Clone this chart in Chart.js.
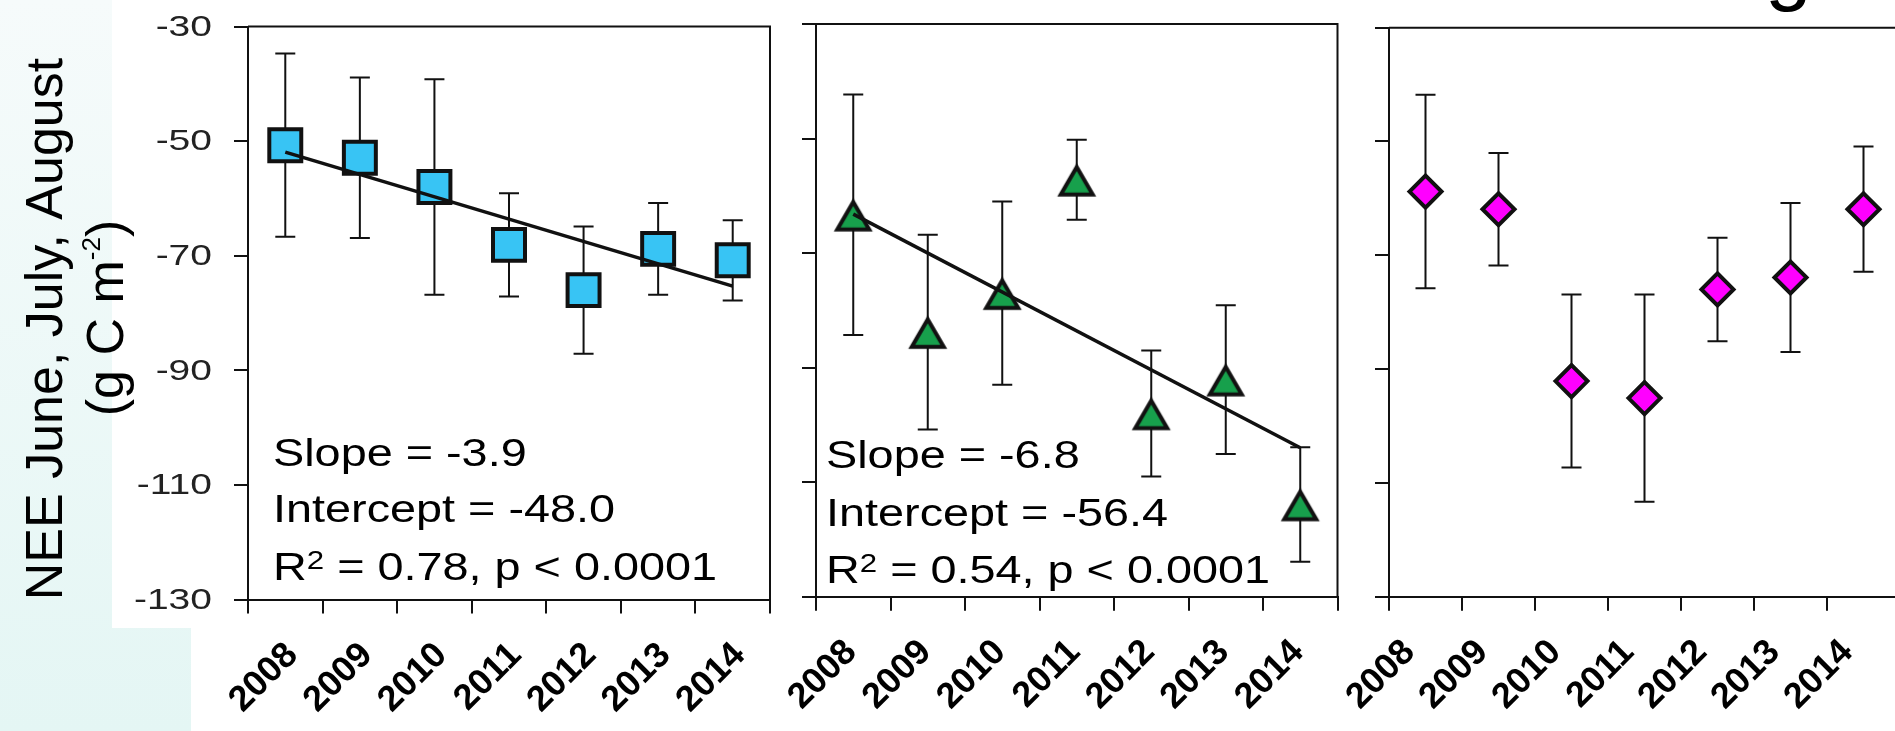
<!DOCTYPE html>
<html>
<head>
  <meta charset="utf-8">
  <script src="https://cdn.jsdelivr.net/npm/chart.js@4.4.1/dist/chart.umd.min.js"></script>
  <style>
    html, body { margin: 0; padding: 0; }
    body {
      width: 1895px; height: 731px; overflow: hidden; position: relative;
      background: linear-gradient(to bottom, #f6fbfb, #e4f6f4);
    }
    .sheet { position: absolute; background: #fff; }
    canvas { position: absolute; left: 0; top: 0; }
  </style>
</head>
<body>
  <div class="sheet" style="left:112px;top:0;width:1783px;height:628px"></div>
  <div class="sheet" style="left:191px;top:628px;width:1704px;height:103px"></div>
  <canvas id="panelA" width="1920" height="731"></canvas>
  <canvas id="panelB" width="1920" height="731"></canvas>
  <canvas id="panelC" width="1920" height="731"></canvas>
<script>
  const years = ['2008', '2009', '2010', '2011', '2012', '2013', '2014'];
  const yTicks = [-30, -50, -70, -90, -110, -130];

  const titleLine = 'NEE June, July, August';
  const unitParts = [['(g C m', false], ['-2', true], [')', false]];

  // left panel: squares + fitted line
  const neeA = [-50.7, -52.9, -58.0, -68.1, -76.0, -68.8, -70.8];
  const errA = [16.0, 14.0, 18.8, 9.0, 11.1, 8.0, 7.0];
  const slopeA = -3.9;
  const interceptA = -48.0;
  const r2A = '0.78';
  const pA = '< 0.0001';

  // middle panel: triangles + fitted line
  const neeB = [-63.3, -83.8, -77.0, -57.2, -98.0, -92.1, -113.9];
  const errB = [21.0, 17.0, 16.0, 7.0, 11.0, 13.0, 10.0];
  const slopeB = -6.8;
  const interceptB = -56.4;
  const r2B = '0.54';
  const pB = '< 0.0001';

  // right panel: diamonds, no fit
  const neeC = [-58.8, -61.9, -92.1, -95.1, -76.0, -73.9, -61.9];
  const errC = [17.0, 9.9, 15.2, 18.2, 9.1, 13.1, 11.0];

  const FONT = '"Liberation Sans", Arial, Helvetica, sans-serif';
  const INK = '#111';
  const TICK = 14;

  // fitted line drawn from first to last year, x = 1 for 2008
  function trendLine(slope, intercept) {
    return years.map((_, i) => (i === 0 || i === years.length - 1) ? intercept + slope * (i + 1) : null);
  }

  // triangle marker centred on its bounding box
  function triangleMarker(fill) {
    const c = document.createElement('canvas');
    c.width = 44; c.height = 42;
    const g = c.getContext('2d');
    const cx = 22, cy = 22, half = 16, h = 27.7;
    g.beginPath();
    g.moveTo(cx, cy - h / 2);
    g.lineTo(cx + half, cy + h / 2);
    g.lineTo(cx - half, cy + h / 2);
    g.closePath();
    g.fillStyle = fill;
    g.fill();
    g.lineWidth = 4;
    g.lineJoin = 'miter';
    g.strokeStyle = INK;
    g.stroke();
    return c;
  }

  function richWidth(ctx, parts, size, supSize) {
    let w = 0;
    parts.forEach(([txt, sup]) => {
      ctx.font = (sup ? supSize : size) + 'px ' + FONT;
      w += ctx.measureText(txt).width;
    });
    return w;
  }

  function richText(ctx, parts, x, y, size, supSize, raise) {
    let cx = x;
    parts.forEach(([txt, sup]) => {
      ctx.font = (sup ? supSize : size) + 'px ' + FONT;
      ctx.fillText(txt, cx, sup ? y - raise : y);
      cx += ctx.measureText(txt).width;
    });
  }

  function panelDecor(p) {
    return {
      id: 'panelDecor',
      beforeDatasetsDraw(chart) {
        const ctx = chart.ctx;
        const y = chart.scales.y;
        const idx = chart.data.datasets.length - 1;
        const pts = chart.getDatasetMeta(idx).data;
        const vals = chart.data.datasets[idx].data;
        ctx.save();
        ctx.strokeStyle = INK;
        ctx.lineWidth = 2;
        pts.forEach((pt, i) => {
          const top = y.getPixelForValue(vals[i] + p.errors[i]);
          const bot = y.getPixelForValue(vals[i] - p.errors[i]);
          ctx.beginPath();
          ctx.moveTo(pt.x, top); ctx.lineTo(pt.x, bot);
          ctx.moveTo(pt.x - 10, top); ctx.lineTo(pt.x + 10, top);
          ctx.moveTo(pt.x - 10, bot); ctx.lineTo(pt.x + 10, bot);
          ctx.stroke();
        });
        ctx.restore();
      },
      afterDraw(chart) {
        const ctx = chart.ctx;
        const a = chart.chartArea;
        const x = chart.scales.x;
        const y = chart.scales.y;
        ctx.save();

        // top and right sides of the box
        ctx.strokeStyle = INK;
        ctx.lineWidth = 2;
        ctx.beginPath();
        ctx.moveTo(a.left, a.top);
        ctx.lineTo(a.right, a.top);
        ctx.lineTo(a.right, a.bottom);
        ctx.stroke();

        // y tick labels (left panel only)
        if (p.yLabels) {
          ctx.font = '30px ' + FONT;
          ctx.fillStyle = '#222';
          ctx.textAlign = 'right';
          ctx.textBaseline = 'middle';
          yTicks.forEach(v => {
            ctx.save();
            ctx.translate(a.left - 36, y.getPixelForValue(v) + 1);
            ctx.scale(1.3, 1);
            ctx.fillText(String(v), 0, 0);
            ctx.restore();
          });
        }

        // rotated year labels
        ctx.font = 'bold 36px ' + FONT;
        ctx.fillStyle = '#000';
        ctx.textAlign = 'right';
        ctx.textBaseline = 'middle';
        years.forEach((yr, i) => {
          ctx.save();
          ctx.translate(x.getPixelForValue(i) + p.labelShift, a.bottom + 50);
          ctx.rotate(-Math.PI / 4);
          ctx.fillText(yr, 0, 0);
          ctx.restore();
        });

        // regression statistics
        if (p.stats) {
          const s = p.stats;
          const lines = [
            [['Slope = ' + s.slope.toFixed(1), false]],
            [['Intercept = ' + s.intercept.toFixed(1), false]],
            [['R', false], ['2', true], [' = ' + s.r2 + ', p ' + s.p, false]]
          ];
          ctx.fillStyle = '#000';
          ctx.textAlign = 'left';
          ctx.textBaseline = 'alphabetic';
          lines.forEach((parts, k) => {
            ctx.save();
            ctx.translate(a.left + s.dx, a.top + s.baselines[k]);
            ctx.scale(1.2, 1);
            richText(ctx, parts, 0, 0, 39, 26, 11);
            ctx.restore();
          });
        }

        if (p.extra) p.extra(ctx);
        ctx.restore();
      }
    };
  }

  function makePanel(id, p) {
    const datasets = [];
    if (p.stats) {
      datasets.push({
        data: trendLine(p.stats.slope, p.stats.intercept),
        borderColor: INK,
        borderWidth: 3.5,
        pointRadius: 0,
        spanGaps: true
      });
    }
    datasets.push({
      data: p.values,
      showLine: false,
      pointStyle: p.pointStyle,
      pointRadius: p.radius,
      pointBackgroundColor: p.fill,
      pointBorderColor: INK,
      pointBorderWidth: 4
    });

    const axisGrid = { drawOnChartArea: false, tickLength: TICK, color: INK, lineWidth: 2 };
    return new Chart(document.getElementById(id), {
      type: 'line',
      data: { labels: years, datasets: datasets },
      options: {
        responsive: false,
        animation: false,
        devicePixelRatio: 1,
        events: [],
        layout: {
          padding: {
            left: p.area.left - TICK,
            top: p.area.top,
            right: 1920 - p.area.right,
            bottom: 731 - p.area.bottom - TICK
          }
        },
        plugins: { legend: { display: false }, tooltip: { enabled: false } },
        scales: {
          x: {
            type: 'category',
            offset: true,
            grid: Object.assign({ offset: true }, axisGrid),
            border: { color: INK, width: 2 },
            ticks: { display: false },
            afterFit: s => { s.height = TICK; }
          },
          y: {
            min: -130,
            max: -30,
            grid: axisGrid,
            border: { color: INK, width: 2 },
            ticks: { display: false, stepSize: 20 },
            afterFit: s => { s.width = TICK; }
          }
        }
      },
      plugins: [panelDecor(p)]
    });
  }

  makePanel('panelA', {
    area: { left: 248, top: 23.5, right: 770, bottom: 599.5 },
    values: neeA,
    errors: errA,
    pointStyle: 'rect',
    radius: 22.6,
    fill: '#38C4F4',
    yLabels: true,
    labelShift: 7,
    stats: { slope: slopeA, intercept: interceptA, r2: r2A, p: pA, dx: 25, baselines: [439.5, 495.5, 553.5] },
    extra(ctx) {
      // y axis title, two rotated lines
      ctx.fillStyle = '#000';
      ctx.textBaseline = 'alphabetic';
      ctx.textAlign = 'center';
      ctx.font = '52px ' + FONT;
      ctx.save();
      ctx.translate(62, 329);
      ctx.rotate(-Math.PI / 2);
      ctx.fillText(titleLine, 0, 0);
      ctx.restore();

      ctx.save();
      ctx.translate(123, 318);
      ctx.rotate(-Math.PI / 2);
      ctx.textAlign = 'left';
      const w = richWidth(ctx, unitParts, 52, 26);
      richText(ctx, unitParts, -w / 2, 0, 52, 26, 23);
      ctx.restore();
    }
  });

  makePanel('panelB', {
    area: { left: 816, top: 22.7, right: 1337.5, bottom: 596.7 },
    values: neeB,
    errors: errB,
    pointStyle: triangleMarker('#17A04C'),
    radius: 20,
    fill: '#17A04C',
    yLabels: false,
    labelShift: -2,
    stats: { slope: slopeB, intercept: interceptB, r2: r2B, p: pB, dx: 10, baselines: [444.3, 502.3, 559.3] }
  });

  makePanel('panelC', {
    area: { left: 1389, top: 27.7, right: 1903, bottom: 596.7 },
    values: neeC,
    errors: errC,
    pointStyle: 'rectRot',
    radius: 16,
    fill: '#FF00FF',
    yLabels: false,
    labelShift: -16,
    extra(ctx) {
      // tail of the heading above the right panel
      ctx.fillStyle = '#000';
      ctx.textAlign = 'left';
      ctx.textBaseline = 'alphabetic';
      ctx.font = '84px ' + FONT;
      ctx.fillText('g', 1765, -5);
    }
  });
</script>
</body>
</html>
